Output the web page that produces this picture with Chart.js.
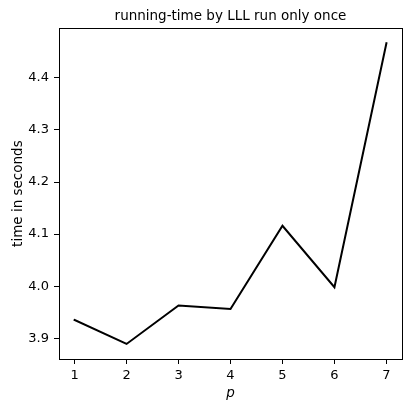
<!DOCTYPE html>
<html>
<head>
<meta charset="utf-8">
<script src="https://cdn.jsdelivr.net/npm/chart.js@4"></script>
<style>
  html, body { margin: 0; padding: 0; background: #fff; }
  #chart { display: block; }
</style>
</head>
<body>
<canvas id="chart" width="412" height="410"></canvas>
<script>
const pValues = [1, 2, 3, 4, 5, 6, 7];
const runningTime = [3.935, 3.889, 3.963, 3.956, 4.116, 3.998, 4.4665];
const xTicks = [1, 2, 3, 4, 5, 6, 7];
const yTicks = [3.9, 4.0, 4.1, 4.2, 4.3, 4.4];
const chartTitle = "running-time by LLL run only once";
const xLabel = "p";
const yLabel = "time in seconds";

// matplotlib style 5% margins
const yMin = Math.min(...runningTime), yMax = Math.max(...runningTime);
const yPad = (yMax - yMin) * 0.05;
const xPad = (pValues[pValues.length - 1] - pValues[0]) * 0.05;

const FONT = "DejaVu Sans";

// draws the box round the plot area
const frame = {
    id: "frame",
    afterDraw(chart) {
        const { ctx, chartArea: a } = chart;
        ctx.save();
        ctx.strokeStyle = "#000";
        ctx.lineWidth = 1;
        ctx.strokeRect(Math.round(a.left) + 0.5, Math.round(a.top) + 0.5,
            Math.round(a.right) - Math.round(a.left), Math.round(a.bottom) - Math.round(a.top));
        ctx.restore();
    }
};

const ctx = document.getElementById("chart").getContext("2d");
new Chart(ctx, {
    type: "line",
    data: {
        datasets: [{
            data: pValues.map((p, i) => ({ x: p, y: runningTime[i] })),
            borderColor: "#000",
            borderWidth: 2,
            borderJoinStyle: "miter",
            borderCapStyle: "square",
            pointRadius: 0,
            tension: 0,
            fill: false
        }]
    },
    options: {
        responsive: false,
        devicePixelRatio: 1,
        animation: false,
        layout: { padding: { left: 0, right: 10, top: 0, bottom: 0 } },
        plugins: {
            legend: { display: false },
            tooltip: { enabled: false },
            title: {
                display: true,
                text: chartTitle,
                fullSize: false,
                color: "#000",
                font: { family: FONT, size: 13.5, weight: "normal" },
                padding: { top: 8, bottom: 4 }
            }
        },
        scales: {
            x: {
                type: "linear",
                min: pValues[0] - xPad,
                max: pValues[pValues.length - 1] + xPad,
                afterBuildTicks: s => { s.ticks = xTicks.map(v => ({ value: v })); },
                afterFit: s => { s.height = 51; },
                grid: { drawOnChartArea: false, drawTicks: true, tickLength: 5, color: "#000" },
                border: { display: true, color: "#000" },
                ticks: {
                    color: "#000",
                    padding: 4,
                    maxRotation: 0,
                    font: { family: FONT, size: 13 },
                    callback: v => String(v)
                },
                title: {
                    display: true,
                    text: xLabel,
                    color: "#000",
                    font: { family: FONT, size: 13.5, style: "italic" },
                    padding: { top: 0, bottom: 8 }
                }
            },
            y: {
                type: "linear",
                min: yMin - yPad,
                max: yMax + yPad,
                afterBuildTicks: s => { s.ticks = yTicks.map(v => ({ value: v })); },
                afterFit: s => { s.width = 59; },
                grid: { drawOnChartArea: false, drawTicks: true, tickLength: 5, color: "#000" },
                border: { display: true, color: "#000" },
                ticks: {
                    color: "#000",
                    padding: 5,
                    font: { family: FONT, size: 13 },
                    callback: v => Number(v).toFixed(1)
                },
                title: {
                    display: true,
                    text: yLabel,
                    color: "#000",
                    font: { family: FONT, size: 13.5 },
                    padding: { top: 10, bottom: 0 }
                }
            }
        }
    },
    plugins: [frame]
});
</script>
</body>
</html>
